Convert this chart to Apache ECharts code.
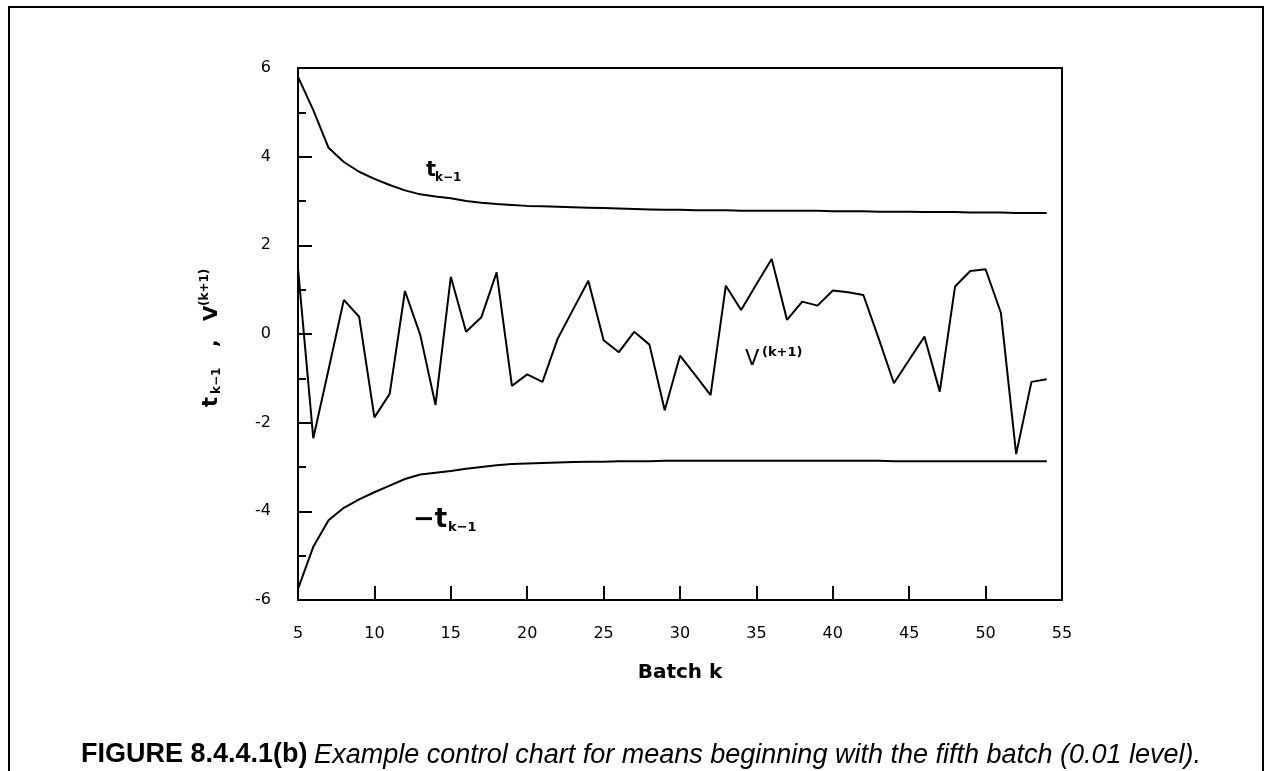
<!DOCTYPE html>
<html>
<head>
<meta charset="utf-8">
<script src="https://cdn.jsdelivr.net/npm/echarts@6/dist/echarts.min.js"></script>
<style>
html,body{margin:0;padding:0;background:#fff;}
#c{width:1273px;height:771px;}
</style>
</head>
<body>
<div id="c"></div>
<script>
// ---- data ----
const batches = [5,6,7,8,9,10,11,12,13,14,15,16,17,18,19,20,21,22,23,24,25,26,27,28,29,30,31,32,33,34,35,36,37,38,39,40,41,42,43,44,45,46,47,48,49,50,51,52,53,54];
const tUpper = [5.8,5.05,4.2,3.88,3.66,3.5,3.36,3.24,3.15,3.1,3.06,3.0,2.96,2.93,2.91,2.89,2.88,2.87,2.86,2.85,2.84,2.83,2.82,2.81,2.8,2.8,2.79,2.79,2.79,2.78,2.78,2.78,2.78,2.78,2.78,2.77,2.77,2.77,2.76,2.76,2.76,2.75,2.75,2.75,2.74,2.74,2.74,2.73,2.73,2.73];
const tLower = [-5.75,-4.8,-4.2,-3.92,-3.73,-3.57,-3.42,-3.27,-3.17,-3.13,-3.09,-3.04,-3.0,-2.96,-2.93,-2.92,-2.91,-2.9,-2.89,-2.88,-2.88,-2.87,-2.87,-2.87,-2.86,-2.86,-2.86,-2.86,-2.86,-2.86,-2.86,-2.86,-2.86,-2.86,-2.86,-2.86,-2.86,-2.86,-2.86,-2.87,-2.87,-2.87,-2.87,-2.87,-2.87,-2.87,-2.87,-2.87,-2.87,-2.87];
const vSeries = [1.48,-2.35,-0.8,0.77,0.39,-1.88,-1.35,0.97,-0.02,-1.6,1.29,0.05,0.38,1.39,-1.17,-0.91,-1.08,-0.1,0.55,1.2,-0.14,-0.41,0.05,-0.24,-1.72,-0.49,-0.93,-1.38,1.09,0.54,1.12,1.69,0.32,0.73,0.64,0.98,0.94,0.88,-0.1,-1.11,-0.58,-0.06,-1.3,1.07,1.42,1.46,0.48,-2.71,-1.08,-1.02];
const xRange = [5, 55];
const xStep = 5;
const yRange = [-6, 6];
const yStep = 2;
const xName = 'Batch k';
const captionBold = 'FIGURE 8.4.4.1(b)';
const captionItalic = 'Example control chart for means beginning with the fifth batch (0.01 level).';

// ---- chart ----
const F = '"DejaVu Sans", sans-serif';
const CF = '"Liberation Sans", Arial, sans-serif';
const pair = (xs, ys) => xs.map((x, i) => [x, ys[i]]);
const lineSeries = (name, ys) => ({
  name, type: 'line', data: pair(batches, ys), symbol: 'none', silent: true,
  lineStyle: { color: '#000', width: 2 }, animation: false
});

function t(x, y, text, size, weight, extra) {
  return {
    type: 'text', x, y, silent: true,
    style: Object.assign({ text, fontSize: size, fontWeight: weight || 'normal', fontFamily: F, fill: '#000', align: 'left', verticalAlign: 'middle' }, extra || {})
  };
}

const chart = echarts.init(document.getElementById('c'));
chart.setOption({
  animation: false,
  backgroundColor: '#fff',
  grid: { left: 298, right: 211, top: 68, bottom: 171, show: true, borderColor: '#000', borderWidth: 2 },
  xAxis: {
    type: 'value', min: xRange[0], max: xRange[1], interval: xStep,
    name: xName, nameLocation: 'middle', nameGap: 63,
    nameTextStyle: { fontFamily: F, fontSize: 20, fontWeight: 'bold', color: '#000' },
    axisLine: { onZero: false, lineStyle: { color: '#000', width: 2 } },
    axisTick: { inside: true, length: 14, lineStyle: { color: '#000', width: 2 } },
    axisLabel: { margin: 26, fontFamily: F, fontSize: 16, color: '#000' },
    splitLine: { show: false }
  },
  yAxis: {
    type: 'value', min: yRange[0], max: yRange[1], interval: yStep,
    axisLine: { onZero: false, lineStyle: { color: '#000', width: 2 } },
    axisTick: { inside: true, length: 14, lineStyle: { color: '#000', width: 2 } },
    minorTick: { show: true, splitNumber: 2, length: 8, lineStyle: { color: '#000', width: 2 } },
    axisLabel: { margin: 27, fontFamily: F, fontSize: 16, color: '#000' },
    splitLine: { show: false }, minorSplitLine: { show: false }
  },
  series: [
    lineSeries('t', tUpper),
    lineSeries('-t', tLower),
    lineSeries('V', vSeries)
  ],
  graphic: [
    { type: 'rect', silent: true, shape: { x: 9, y: 7, width: 1254, height: 820 }, style: { fill: 'none', stroke: '#000', lineWidth: 2 } },
    // inner annotations
    t(426, 171, 't', 21, 'bold'),
    t(435, 178, 'k\u22121', 12, 'bold'),
    t(413, 520, '\u2212t', 26, 'bold'),
    t(448, 528, 'k\u22121', 13, 'bold'),
    t(745, 360, 'V', 21, 'normal'),
    t(762, 353, '(k+1)', 13, 'bold'),
    // y axis name (rotated)
    { type: 'group', x: 212, y: 407, rotation: Math.PI / 2, silent: true, children: [
      t(0, 0, 't', 21, 'bold'),
      t(13, 5, 'k\u22121', 12, 'bold'),
      t(60, 0, ',', 20, 'bold'),
      t(86, 0, 'V', 20, 'bold'),
      t(101, -7, '(k+1)', 12, 'bold')
    ]},
    // caption
    { type: 'text', x: 641, y: 755, silent: true, style: {
      text: '{b|' + captionBold + '}  {i|' + captionItalic + '}',
      align: 'center', verticalAlign: 'middle', fill: '#000',
      rich: {
        b: { fontFamily: CF, fontSize: 27, fontWeight: 'bold', fill: '#000' },
        i: { fontFamily: CF, fontSize: 27, fontStyle: 'italic', fill: '#000' }
      }
    }}
  ]
});
</script>
</body>
</html>
